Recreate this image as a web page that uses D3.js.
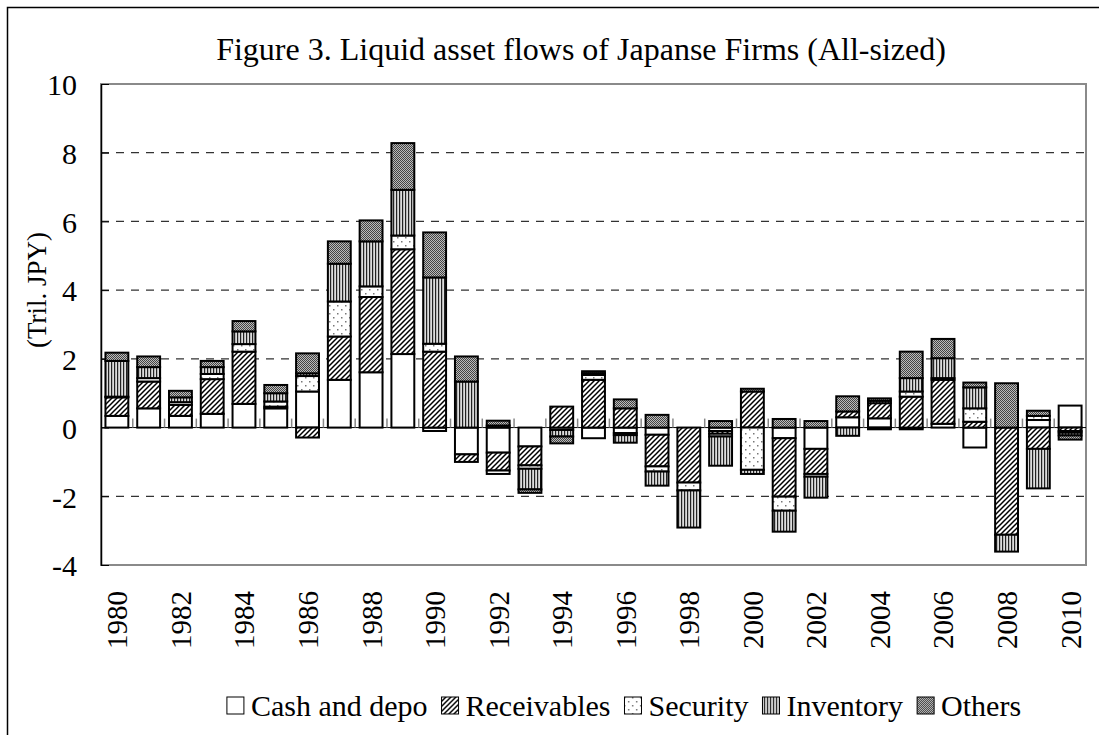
<!DOCTYPE html>
<html>
<head>
<meta charset="utf-8">
<script src="https://cdn.jsdelivr.net/npm/d3@7"></script>
<style>
  body { margin: 0; background: #fff; }
  text { font-family: "Liberation Serif", "Times New Roman", serif; fill: #000; }
</style>
</head>
<body>
<script>
// chart values (Tril. JPY)
const years = [1980,1981,1982,1983,1984,1985,1986,1987,1988,1989,1990,1991,1992,1993,1994,1995,
  1996,1997,1998,1999,2000,2001,2002,2003,2004,2005,2006,2007,2008,2009,2010]
const cash = [0.34,0.56,0.34,0.40,0.69,0.56,1.05,1.39,1.61,2.14,-0.10,-0.78,-0.73,-0.55,-0.07,-0.31,
  -0.16,-0.21,0,-0.10,0,-0.31,-0.62,0.30,0.27,-0.05,0.11,-0.58,0,0.22,0.64]
const receivables = [0.54,0.78,0.32,1.01,1.52,0.05,-0.29,1.26,2.19,3.05,2.21,-0.22,-0.52,-0.55,0.61,1.39,
  0.56,-0.92,-1.60,-0.08,1.05,-1.70,-0.73,0.17,0.44,0.90,1.28,0.17,-3.12,-0.62,-0.10]
const security = [0.02,0.10,0.08,0.15,0.22,0.15,0.45,1.02,0.31,0.40,0.23,0,-0.10,-0.10,0,0.14,
  -0.06,-0.15,-0.23,-0.08,-1.23,-0.41,-0.08,0,-0.05,0.15,0.05,0.39,0,0.12,-0.05]
const inventory = [1.04,0.32,0.14,0.20,0.37,0.24,0.08,1.10,1.31,1.33,1.93,1.34,0.06,-0.60,-0.19,0.05,
  -0.22,-0.41,-1.08,-0.85,-0.12,-0.61,-0.61,-0.24,0.07,0.39,0.58,0.61,-0.49,-1.15,-0.08]
const others = [0.24,0.31,0.19,0.18,0.30,0.24,0.58,0.65,0.61,1.36,1.31,0.73,0.14,-0.10,-0.20,0.06,
  0.26,0.37,0,0.19,0.08,0.25,0.19,0.44,0.07,0.77,0.56,0.14,1.29,0.15,-0.12]
const seriesNames = ["Cash and depo", "Receivables", "Security", "Inventory", "Others"]
const seriesKeys = ["cash", "receivables", "security", "inventory", "others"]
const yTicks = [-4, -2, 0, 2, 4, 6, 8, 10]
const title = "Figure 3. Liquid asset flows of Japanse Firms (All-sized)"

let width = 1099
let height = 735
let margin = {left: 101, right: 13, top: 84, bottom: 170}

let rows = years.map((y, i) => ({
  year: y, cash: cash[i], receivables: receivables[i], security: security[i],
  inventory: inventory[i], others: others[i]
}))

let svg = d3.select("body").append("svg")
  .attr("width", width)
  .attr("height", height)

// fill patterns
let defs = svg.append("defs")
let p = defs.append("pattern").attr("id", "pat-rec").attr("patternUnits", "userSpaceOnUse")
  .attr("width", 5).attr("height", 5)
p.append("rect").attr("width", 5).attr("height", 5).attr("fill", "#fff")
p.append("path").attr("d", "M-1,1 l2,-2 M0,5 l5,-5 M4,6 l2,-2").attr("stroke", "#000").attr("stroke-width", 1.5)

p = defs.append("pattern").attr("id", "pat-sec").attr("patternUnits", "userSpaceOnUse")
  .attr("width", 8).attr("height", 8)
p.append("rect").attr("width", 8).attr("height", 8).attr("fill", "#fff")
p.append("rect").attr("x", 1).attr("y", 1).attr("width", 1.5).attr("height", 1.5).attr("fill", "#777")
p.append("rect").attr("x", 5).attr("y", 5).attr("width", 1.5).attr("height", 1.5).attr("fill", "#777")

p = defs.append("pattern").attr("id", "pat-inv").attr("patternUnits", "userSpaceOnUse")
  .attr("width", 3).attr("height", 3)
p.append("rect").attr("width", 3).attr("height", 3).attr("fill", "#ddd")
p.append("rect").attr("x", 0).attr("width", 1.2).attr("height", 3).attr("fill", "#222")

p = defs.append("pattern").attr("id", "pat-oth").attr("patternUnits", "userSpaceOnUse")
  .attr("width", 2).attr("height", 2)
p.append("rect").attr("width", 2).attr("height", 2).attr("fill", "#bbb")
p.append("rect").attr("width", 1).attr("height", 1).attr("fill", "#444")
p.append("rect").attr("x", 1).attr("y", 1).attr("width", 1).attr("height", 1).attr("fill", "#444")

let fills = {
  cash: "#fff", receivables: "url(#pat-rec)", security: "url(#pat-sec)",
  inventory: "url(#pat-inv)", others: "url(#pat-oth)"
}

// outer frame (cropped at right/bottom)
svg.append("path")
  .attr("d", "M7.5," + (height + 5) + " V7.5 H" + (width + 5))
  .attr("fill", "none").attr("stroke", "#000").attr("stroke-width", 1.5)

let x = d3.scaleBand()
  .domain(years)
  .range([margin.left, width - margin.right])
  .paddingInner(0.28)
  .paddingOuter(0.14)

let y = d3.scaleLinear()
  .domain([-4, 10])
  .range([565, margin.top])

// plot frame
svg.append("rect")
  .attr("x", margin.left).attr("y", margin.top)
  .attr("width", width - margin.right - margin.left).attr("height", y(-4) - margin.top)
  .attr("fill", "none").attr("stroke", "#8a8a8a").attr("stroke-width", 2)

// dashed gridlines
svg.append("g").selectAll("line")
  .data(yTicks.filter(d => d != 0 && d != 10 && d != -4)).enter()
  .append("line")
  .attr("x1", margin.left).attr("x2", width - margin.right)
  .attr("y1", d => y(d)).attr("y2", d => y(d))
  .attr("stroke", "#333").attr("stroke-width", 1.2)
  .attr("stroke-dasharray", "8,7")

// y axis
let yAxis = svg.append("g")
  .attr("transform", "translate(" + margin.left + ",0)")
  .call(d3.axisLeft(y).tickValues(yTicks).tickFormat(d => String(d))
    .tickSizeInner(-8).tickSizeOuter(0).tickPadding(24))
yAxis.select(".domain").attr("stroke", "#000").attr("stroke-width", 1.5)
yAxis.selectAll(".tick line").attr("stroke", "#000")
yAxis.selectAll("text")
  .style("font-size", "30px")
  .attr("dy", "0.36em")

// zero line with category ticks
svg.append("line")
  .attr("x1", margin.left).attr("x2", width - margin.right)
  .attr("y1", y(0)).attr("y2", y(0))
  .attr("stroke", "#000").attr("stroke-width", 1)
let step = x.step()
svg.append("g").selectAll("line")
  .data(years.slice(1)).enter()
  .append("line")
  .attr("x1", d => x(d) - (step - x.bandwidth()) / 2)
  .attr("x2", d => x(d) - (step - x.bandwidth()) / 2)
  .attr("y1", y(0)).attr("y2", y(0) - 9)
  .attr("stroke", "#888").attr("stroke-width", 1.5)

// stacked bars
let stack = d3.stack().keys(seriesKeys).offset(d3.stackOffsetDiverging)
let layers = stack(rows)

svg.append("g").selectAll("g")
  .data(layers).enter()
  .append("g")
  .attr("fill", d => fills[d.key])
  .selectAll("rect")
  .data(d => d.filter(s => s[0] != s[1])).enter()
  .append("rect")
  .attr("x", d => x(d.data.year))
  .attr("width", x.bandwidth())
  .attr("y", d => y(Math.max(d[0], d[1])))
  .attr("height", d => Math.abs(y(d[0]) - y(d[1])))
  .attr("stroke", "#000")
  .attr("stroke-width", 2)

// x labels, every other year
svg.append("g").selectAll("text")
  .data(years.filter(d => d % 2 == 0)).enter()
  .append("text")
  .attr("transform", d => "translate(" + (x(d) + x.bandwidth() / 2) + ",591) rotate(-90)")
  .attr("text-anchor", "end")
  .attr("dy", "0.36em")
  .style("font-size", "29px")
  .text(d => d)

// title
svg.append("text")
  .attr("x", 581).attr("y", 60)
  .attr("text-anchor", "middle")
  .style("font-size", "32px")
  .text(title)

// y axis label
svg.append("text")
  .attr("transform", "translate(36,290) rotate(-90)")
  .attr("text-anchor", "middle")
  .attr("dy", "0.36em")
  .style("font-size", "27px")
  .text("(Tril. JPY)")

// legend
let legend = svg.append("g")
let lx = 0
seriesKeys.forEach((k, i) => {
  legend.append("rect")
    .attr("x", lx).attr("y", -19)
    .attr("width", 17).attr("height", 17)
    .attr("fill", fills[k]).attr("stroke", "#000").attr("stroke-width", 1)
  let t = legend.append("text")
    .attr("x", lx + 24).attr("y", 0)
    .style("font-size", "30px")
    .text(seriesNames[i])
  lx += 24 + t.node().getComputedTextLength() + 14
})
lx -= 14
legend.attr("transform", "translate(" + (624 - lx / 2) + ",716)")
</script>
</body>
</html>
